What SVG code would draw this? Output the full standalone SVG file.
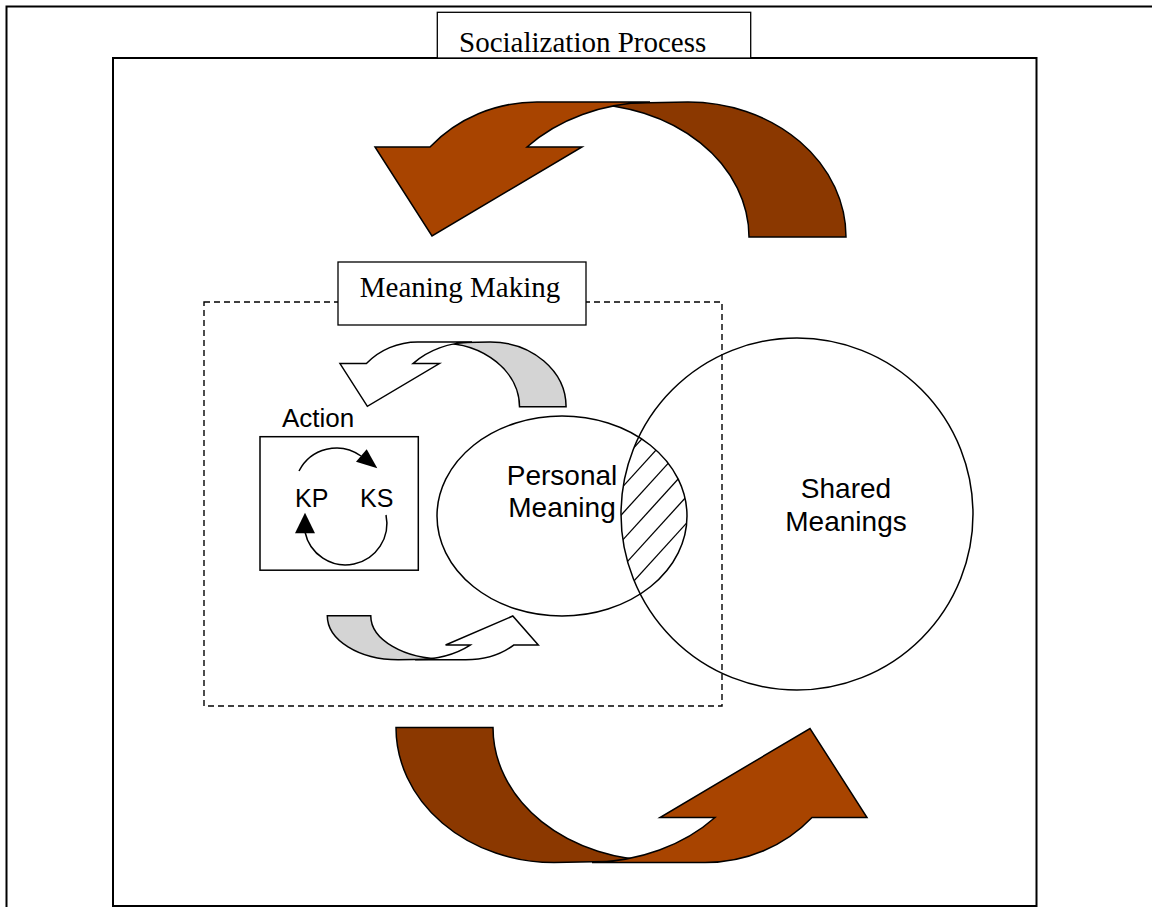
<svg xmlns="http://www.w3.org/2000/svg" xmlns:xlink="http://www.w3.org/1999/xlink" width="1152" height="907" viewBox="0 0 1152 907">
<style>
.frame{fill:none;stroke:#000;stroke-width:2}
.box{fill:#fff;stroke:#000;stroke-width:1.3}
.line{fill:none;stroke:#000;stroke-width:1.5}
.serif{font-family:"Liberation Serif","Times New Roman",serif;font-size:29px;fill:#000}
.sans{font-family:"Liberation Sans",Arial,sans-serif;fill:#000}
.hatch{stroke:#000;stroke-width:1.3}
.arw{stroke:#000;stroke-width:1.5}
</style>
<defs>
<path id="bandBack" vector-effect="non-scaling-stroke" d="M846,237 A158,135 0 0 0 688,102 L583,104 A166,133 0 0 1 749,237 Z"/>
<path id="bandFront" vector-effect="non-scaling-stroke" d="M430,147 A143.5,135 0 0 1 537,102 L650,102 A170,133 0 0 0 527,147 L582,147 L432,236 L375,147 Z"/>
<clipPath id="clipE"><ellipse cx="562" cy="516" rx="125" ry="100"/></clipPath>
<clipPath id="clipC"><circle cx="797" cy="514" r="176"/></clipPath>
</defs>
<rect width="1152" height="907" fill="#fff"/>
<g id="outer-frame">
<path class="frame" d="M6.5,907 V6.5 H1152"/>
</g>
<g id="socialization-frame">
<rect class="frame" x="113" y="58" width="923.5" height="848"/>
</g>
<g id="socialization-label">
<rect class="box" x="437.3" y="12.3" width="313.4" height="45.7"/>
<text class="serif" x="582.7" y="51.5" text-anchor="middle">Socialization Process</text>
</g>
<g id="connectors">
<g id="top-curved-arrow" class="arw">
<use xlink:href="#bandBack" fill="#8B3800"/>
<use xlink:href="#bandFront" fill="#A84400"/>
</g>
<g id="bottom-curved-arrow" class="arw" transform="rotate(180 621 482.25)">
<use xlink:href="#bandBack" fill="#8B3800"/>
<use xlink:href="#bandFront" fill="#A84400"/>
</g>
<g id="small-top-arrow" class="arw" transform="translate(340,342) scale(0.48) translate(-375,-102)">
<use xlink:href="#bandBack" fill="#D4D4D4"/>
<use xlink:href="#bandFront" fill="#fff"/>
</g>
<g id="small-bottom-arrow" class="arw" transform="translate(327.3,615.7) scale(0.448,0.326) translate(-396,-727.5) rotate(180 621 482.25)">
<use xlink:href="#bandBack" fill="#D4D4D4"/>
<use xlink:href="#bandFront" fill="#fff"/>
</g>
<g id="action-cycle">
<path class="line" d="M299,471 A42,42 0 0 1 361,456"/>
<polygon points="356,461.7 366.7,449.3 377.3,468.3" fill="#000"/>
<path class="line" d="M386,515 A41,41 0 0 1 305,532"/>
<polygon points="295,533.3 315,533.3 305,512.7" fill="#000"/>
</g>
</g>
<g id="meaning-making">
<rect x="204" y="302" width="518" height="404" fill="none" stroke="#000" stroke-width="1.4" stroke-dasharray="6,4"/>
<rect class="box" x="338" y="262" width="248" height="63"/>
<text class="serif" x="460" y="297" text-anchor="middle">Meaning Making</text>
</g>
<g id="action">
<text class="sans" x="282" y="427" font-size="26">Action</text>
<rect x="260" y="436.7" width="158.3" height="133.5" fill="none" stroke="#000" stroke-width="1.5"/>
<text class="sans" x="295" y="507" font-size="25">KP</text>
<text class="sans" x="360" y="507" font-size="25">KS</text>
</g>
<g id="personal-meaning">
<ellipse class="line" cx="562" cy="516" rx="125" ry="100"/>
<text class="sans" x="562" y="485" font-size="28" text-anchor="middle">Personal</text>
<text class="sans" x="562" y="517" font-size="28" text-anchor="middle">Meaning</text>
</g>
<g id="shared-meanings">
<circle class="line" cx="797" cy="514" r="176"/>
<text class="sans" x="846" y="498" font-size="28" text-anchor="middle">Shared</text>
<text class="sans" x="846" y="531" font-size="28" text-anchor="middle">Meanings</text>
</g>
<g id="overlap-hatch" clip-path="url(#clipE)">
<g clip-path="url(#clipC)">
<line class="hatch" x1="600" y1="458" x2="700" y2="348"/>
<line class="hatch" x1="600" y1="485" x2="700" y2="375"/>
<line class="hatch" x1="600" y1="511.7" x2="700" y2="401.7"/>
<line class="hatch" x1="600" y1="538.3" x2="700" y2="428.3"/>
<line class="hatch" x1="600" y1="565" x2="700" y2="455"/>
<line class="hatch" x1="600" y1="591.7" x2="700" y2="481.7"/>
<line class="hatch" x1="600" y1="618.3" x2="700" y2="508.3"/>
<line class="hatch" x1="600" y1="645" x2="700" y2="535"/>
<line class="hatch" x1="600" y1="671.7" x2="700" y2="561.7"/>
</g>
</g>
</svg>
